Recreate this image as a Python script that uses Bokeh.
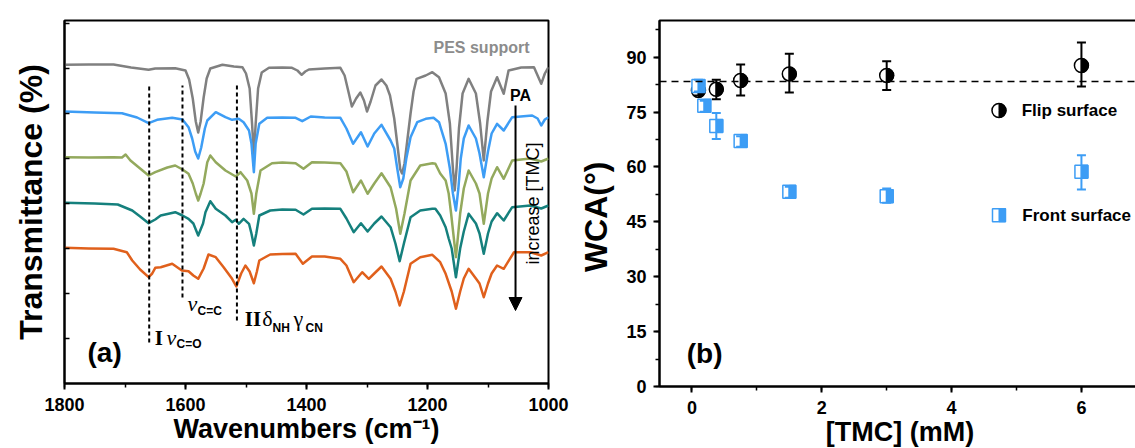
import math
from bokeh.plotting import figure
from bokeh.layouts import row
from bokeh.models import Range1d, SingleIntervalTicker, FixedTicker, Arrow, NormalHead, Span
from bokeh.core.properties import value
from bokeh.embed import file_html
from bokeh.resources import INLINE

FONT = "Liberation Sans"
SERIF = "Liberation Serif"

# ---------------- panel (a): FTIR spectra (offset transmittance, arb. units) -------------
pes_wn = [1800, 1760, 1719, 1690, 1661, 1650, 1617, 1600, 1594, 1588, 1583, 1579, 1575, 1570, 1565, 1559,
          1539, 1520, 1506, 1500, 1494, 1490, 1487, 1484, 1480, 1474, 1462, 1440, 1424, 1415, 1408, 1402,
          1396, 1370, 1344, 1337, 1330, 1325, 1318, 1311, 1305, 1300, 1294, 1286, 1276, 1268, 1262, 1255,
          1250, 1245, 1242, 1238, 1233, 1228, 1223, 1218, 1203, 1192, 1181, 1170, 1163, 1158, 1155, 1152,
          1148, 1142, 1132, 1120, 1113, 1107, 1101, 1095, 1085, 1074, 1066, 1045, 1024, 1018, 1012, 1006, 1000]
pes_t = [318.7, 319, 319, 316, 313.7, 315, 315.3, 313, 304, 285, 262, 251, 262, 286, 305, 315,
         318.7, 317, 316.3, 310, 295, 260, 228, 260, 295, 311, 315.7, 316, 315.7, 313, 308.7, 312,
         314, 315, 315.7, 308, 290, 277, 285, 291, 283, 272, 282, 298, 304, 298, 288, 265,
         240, 214, 210, 220, 245, 270, 292, 304.7, 308, 311.3, 306.3, 290, 260, 215, 193, 215,
         255, 290, 304.7, 290, 260, 223, 262, 292, 306.3, 289.7, 313, 316, 316.3, 308, 299.7, 310, 316.3]

pa1_wn = [1800, 1750, 1705, 1680, 1661, 1647, 1622, 1605, 1595, 1589, 1584, 1579, 1574, 1568, 1564, 1550,
          1534, 1523, 1512, 1504, 1495, 1491, 1487, 1484, 1478, 1465, 1440, 1418, 1407, 1393, 1370, 1344,
          1334, 1323, 1310, 1299, 1288, 1276, 1261, 1255, 1250, 1245, 1240, 1235, 1228, 1217, 1203, 1190,
          1181, 1170, 1163, 1158, 1153, 1149, 1145, 1140, 1132, 1120, 1114, 1107, 1100, 1094, 1085, 1074,
          1060, 1027, 1018, 1012, 1006, 1000]
pa1_t = [272, 271, 270.3, 266, 260.3, 263.7, 265.7, 264, 256.3, 245, 232, 225, 236, 255, 263, 271.3,
         266.3, 263.7, 264.7, 261.3, 253, 240, 211.3, 240, 259.7, 265.7, 266, 265.7, 262.3, 267, 266, 265.7,
         255, 239.7, 251.3, 237, 250, 258.7, 243, 235, 215, 196.3, 205, 225, 246.3, 261.3, 264.7, 265.7,
         261.3, 239.7, 215, 190, 173, 195, 225, 245, 258, 245, 230, 206.3, 232, 250, 259.7, 253,
         266.3, 268, 265, 258, 264, 266.3]

pa2_wn = [1800, 1760, 1719, 1705, 1699, 1691, 1675, 1661, 1650, 1630, 1617, 1605, 1595, 1588, 1583, 1579,
          1575, 1570, 1564, 1559, 1550, 1534, 1517, 1509, 1498, 1491, 1487, 1483, 1476, 1457, 1440, 1418,
          1405, 1391, 1370, 1344, 1334, 1323, 1310, 1299, 1288, 1276, 1261, 1252, 1245, 1238, 1228, 1212,
          1192, 1187, 1179, 1170, 1165, 1161, 1153, 1146, 1140, 1132, 1120, 1114, 1107, 1100, 1094, 1085,
          1074, 1060, 1030, 1012, 1000]
pa2_t = [226.3, 226, 226.3, 226, 229, 223, 215, 208, 211.3, 216, 218, 214, 209.7, 200, 190, 183,
         190, 200, 221.3, 228, 221.3, 213, 207, 211.3, 203, 190, 169.7, 190, 213, 220.3, 221, 220.3,
         214.7, 221.3, 221, 220.3, 212, 191.3, 203, 189.7, 200, 210.3, 196.3, 175, 149.7, 170, 203, 218,
         220.3, 219.7, 210, 203, 190, 170, 126.3, 170, 195, 213, 200, 190, 159.7, 190, 205, 216.3,
         204.7, 223, 225, 222, 225]

pa3_wn = [1800, 1750, 1712, 1688, 1675, 1661, 1650, 1641, 1617, 1605, 1595, 1587, 1583, 1579, 1575, 1571,
          1567, 1559, 1550, 1534, 1523, 1517, 1512, 1504, 1495, 1491, 1487, 1483, 1478, 1460, 1440, 1418,
          1405, 1391, 1370, 1344, 1334, 1322, 1310, 1299, 1288, 1276, 1261, 1253, 1246, 1239, 1228, 1212,
          1192, 1187, 1179, 1170, 1165, 1160, 1153, 1146, 1140, 1132, 1120, 1114, 1107, 1100, 1094, 1085,
          1074, 1060, 1030, 1012, 1000]
pa3_t = [180.7, 180, 179, 173, 167, 160.3, 164, 168, 171.3, 168, 164.7, 160, 154, 148, 154, 160,
         171.3, 182.3, 174.7, 168, 161.3, 163.7, 159.7, 164.7, 159.7, 150, 138, 150, 168, 173, 174, 173.7,
         169, 174.7, 175, 174.7, 165, 151.3, 160.3, 152, 160, 167, 156.3, 140, 122.3, 140, 166.3, 173,
         174.7, 174.7, 168, 156.3, 145, 135, 106.3, 135, 152, 169.7, 160, 150, 129.7, 150, 162, 170.3,
         163, 176.3, 178, 175, 178]

pa4_wn = [1800, 1760, 1719, 1697, 1688, 1675, 1661, 1655, 1650, 1641, 1622, 1606, 1595, 1587, 1579, 1570,
          1562, 1550, 1537, 1523, 1516, 1508, 1501, 1494, 1487, 1482, 1478, 1460, 1440, 1418, 1406, 1391,
          1370, 1344, 1334, 1322, 1308, 1297, 1288, 1276, 1261, 1253, 1246, 1239, 1228, 1212, 1192, 1179,
          1170, 1160, 1153, 1146, 1140, 1132, 1120, 1114, 1107, 1100, 1094, 1085, 1074, 1057, 1030, 1012, 1000]
pa4_t = [135.7, 135, 134.7, 131.3, 123, 114, 106.3, 110, 115.7, 116.3, 119.7, 113, 112.3, 108, 104.7, 115,
         129, 126.3, 116.3, 104.7, 97, 110, 118, 112, 100.3, 112, 123, 129, 129.5, 129.7, 119.7, 127,
         127, 124.7, 118, 101.3, 111.3, 104.7, 110, 117, 104.7, 92, 78, 92, 119.7, 126.3, 128.7, 121.3,
         109.7, 92, 74.7, 92, 105, 114.7, 105, 100, 86.3, 100, 110, 118, 114.7, 131.3, 131.3, 128, 131.3]

spectra_colors = ["#808080", "#3d9df5", "#93a95d", "#15807d", "#e0601c"]

band_wn = [1660, 1605, 1515]
band_top = [300, 298, 298]
band_bottom = [41, 86, 63]

trans_minor_ticks = [45, 90, 135, 180, 225, 270, 315, 360]

# ---------------- panel (b): water contact angle -------------
tmc_flip = [0.1, 0.375, 0.75, 1.5, 3, 6]
wca_flip = [80.9, 81.2, 83.6, 85.4, 85.0, 87.7]
wca_flip_hi = [82.3, 83.8, 88.0, 90.9, 88.9, 94.0]
wca_flip_lo = [79.5, 78.5, 79.5, 80.3, 81.0, 82.0]

tmc_front = [0.1, 0.19, 0.375, 0.75, 1.5, 3, 6]
wca_front = [82.1, 76.7, 71.2, 67.1, 53.2, 52.0, 58.7]
wca_front_hi = [83.8, 78.1, 74.7, 68.4, 54.6, 54.1, 63.2]
wca_front_lo = [80.6, 75.1, 67.6, 65.5, 51.6, 50.2, 53.8]

wca_pes = 83.3
BLUE = "#3d9df5"


def style_axis(ax, size="18px"):
    ax.axis_line_width = 2
    ax.axis_line_color = "black"
    ax.major_tick_line_width = 2
    ax.minor_tick_line_width = 1.5
    ax.major_tick_line_color = "black"
    ax.minor_tick_line_color = "black"
    ax.major_label_text_font = FONT
    ax.major_label_text_font_size = size
    ax.major_label_text_font_style = "bold"
    ax.major_label_text_color = "black"
    ax.axis_label_text_font = FONT
    ax.axis_label_text_font_style = "bold"
    ax.axis_label_text_color = "black"


# ======== figure A ========
pA = figure(frame_width=484, frame_height=363, x_range=Range1d(1800, 1000), y_range=Range1d(0, 363),
            output_backend="svg", toolbar_location=None,
            min_border_left=64, min_border_right=27, min_border_top=20, min_border_bottom=65)
pA.outline_line_color = "black"
pA.outline_line_width = 2
pA.xgrid.visible = False
pA.ygrid.visible = False
pA.background_fill_color = "white"
pA.border_fill_color = "white"

xa = pA.xaxis[0]
style_axis(xa)
xa.ticker = SingleIntervalTicker(interval=200, num_minor_ticks=2)
xa.major_tick_out = 6
xa.major_tick_in = 0
xa.minor_tick_out = 4
xa.minor_tick_in = 0
xa.major_label_standoff = 8
xa.axis_label = "Wavenumbers (cm\u207b\u00b9)"
xa.axis_label_text_font_size = "27px"
xa.axis_label_standoff = 0

ya = pA.yaxis[0]
style_axis(ya)
ya.ticker = FixedTicker(ticks=[], minor_ticks=trans_minor_ticks)
ya.minor_tick_in = 5
ya.minor_tick_out = 0
ya.major_tick_in = 0
ya.major_tick_out = 0
ya.major_label_standoff = 0
ya.axis_label = "Transmittance (%)"
ya.axis_label_text_font_size = "32px"
ya.axis_label_standoff = 16

for wn, t, c in zip([pes_wn, pa1_wn, pa2_wn, pa3_wn, pa4_wn],
                    [pes_t, pa1_t, pa2_t, pa3_t, pa4_t], spectra_colors):
    pA.line(wn, t, line_color=c, line_width=2.5, line_join="round")

pA.segment(x0=band_wn, y0=band_bottom, x1=band_wn, y1=band_top,
           line_color="black", line_width=2, line_dash="4 3")

# band labels
pA.text(x=[1651, 1502], y=[46, 65], text=["I", "II"], text_font=value(SERIF), text_font_size="21px",
        text_font_style="bold", text_color="black", text_align="left", text_baseline="alphabetic")
pA.text(x=[1631.4, 1596.7], y=[46, 80], text=["\u03bd", "\u03bd"], text_font=value(SERIF),
        text_font_size="22px", text_font_style="italic", text_color="black",
        text_align="left", text_baseline="alphabetic")
pA.text(x=[1473, 1421.5], y=[65, 65], text=["\u03b4", "\u03b3"], text_font=value(SERIF),
        text_font_size="22px", text_color="black", text_align="left", text_baseline="alphabetic")
pA.text(x=[1614.9, 1580, 1456.2, 1401.7], y=[40, 73, 56, 56], text=["C=O", "C=C", "NH", "CN"],
        text_font=value(FONT), text_font_size="12px", text_font_style="bold", text_color="black",
        text_align="left", text_baseline="alphabetic")

pA.text(x=[1031.4], y=[336.3], text=["PES support"], text_font=value(FONT), text_font_size="16px",
        text_font_style="bold", text_color="#8c8c8c", text_align="right", text_baseline="middle")
pA.text(x=[1046.3], y=[288], text=["PA"], text_font=value(FONT), text_font_size="16px",
        text_font_style="bold", text_color="black", text_align="center", text_baseline="middle")
pA.text(x=[1024.8], y=[180], text=["increase [TMC]"], text_font=value(FONT), text_font_size="18px",
        text_color="black", text_align="center", text_baseline="middle", angle=math.pi / 2)
pA.add_layout(Arrow(end=NormalHead(size=13, fill_color="black", line_color="black"),
                    x_start=1054.5, y_start=278, x_end=1054.5, y_end=73,
                    line_color="black", line_width=2))
pA.text(x=[1762], y=[31], text=["(a)"], text_font=value(FONT), text_font_size="28px",
        text_font_style="bold", text_color="black", text_align="left", text_baseline="middle")

# ======== figure B ========
XB0, XB1 = -0.5, 6.91
FWB = 481
pB = figure(frame_width=FWB, frame_height=366, x_range=Range1d(XB0, XB1), y_range=Range1d(0, 100),
            output_backend="svg", toolbar_location=None,
            min_border_left=79, min_border_right=0, min_border_top=17, min_border_bottom=65)
pB.outline_line_color = "black"
pB.outline_line_width = 2
pB.xgrid.visible = False
pB.ygrid.visible = False
pB.background_fill_color = "white"
pB.border_fill_color = "white"

xb = pB.xaxis[0]
style_axis(xb)
xb.ticker = SingleIntervalTicker(interval=2, num_minor_ticks=2)
xb.major_tick_out = 6
xb.major_tick_in = 0
xb.minor_tick_out = 4
xb.minor_tick_in = 0
xb.major_label_standoff = 8
xb.axis_label = "[TMC] (mM)"
xb.axis_label_text_font_size = "27px"
xb.axis_label_standoff = 0

yb = pB.yaxis[0]
style_axis(yb)
yb.ticker = SingleIntervalTicker(interval=15, num_minor_ticks=2)
yb.major_tick_out = 6
yb.major_tick_in = 0
yb.minor_tick_out = 4
yb.minor_tick_in = 0
yb.major_label_standoff = 7
yb.axis_label = "WCA(\u00b0)\u00a0\u00a0\u00a0"
yb.axis_label_text_font_size = "32px"
yb.axis_label_standoff = 9

pB.add_layout(Span(location=wca_pes, dimension="width", line_color="black",
                   line_width=1.5, line_dash="7 5"))

px_per_unit = FWB / (XB1 - XB0)
half_sq = 3.25 / px_per_unit


def flip_marker(xs, ys):
    pB.scatter(xs, ys, marker="circle", size=14, fill_color="white", line_color="black", line_width=1.5)
    pB.wedge(x=xs, y=ys, radius=7, radius_units="screen", start_angle=-math.pi / 2,
             end_angle=math.pi / 2, fill_color="black", line_color="black", line_width=1)


def front_marker(xs, ys):
    pB.scatter(xs, ys, marker="square", size=13, fill_color="white", line_color=BLUE, line_width=1.5)
    pB.rect(x=[v + half_sq for v in xs], y=ys, width=6.5, height=13, width_units="screen",
            height_units="screen", fill_color=BLUE, line_color=BLUE, line_width=1)


flip_marker(tmc_flip, wca_flip)
pB.segment(x0=tmc_flip, y0=wca_flip_lo, x1=tmc_flip, y1=wca_flip_hi, line_color="black", line_width=2)
pB.scatter(tmc_flip + tmc_flip, wca_flip_hi + wca_flip_lo, marker="dash", size=9,
           line_color="black", line_width=2)

front_marker(tmc_front, wca_front)
pB.segment(x0=tmc_front, y0=wca_front_lo, x1=tmc_front, y1=wca_front_hi, line_color=BLUE, line_width=2)
pB.scatter(tmc_front + tmc_front, wca_front_hi + wca_front_lo, marker="dash", size=9,
           line_color=BLUE, line_width=2)

# legend
legend_x = [4.73]
flip_marker(legend_x, [75.4])
front_marker(legend_x, [46.8])
pB.text(x=[5.08, 5.09], y=[75.4, 46.8], text=["Flip surface", "Front surface"], text_font=value(FONT),
        text_font_size="17px", text_font_style="bold", text_color="black", text_align="left",
        text_baseline="middle")
pB.text(x=[-0.08], y=[9], text=["(b)"], text_font=value(FONT), text_font_size="28px",
        text_font_style="bold", text_color="black", text_align="left", text_baseline="middle")

layout = row(pA, pB)
open("out.html", "w").write(file_html(layout, INLINE))
